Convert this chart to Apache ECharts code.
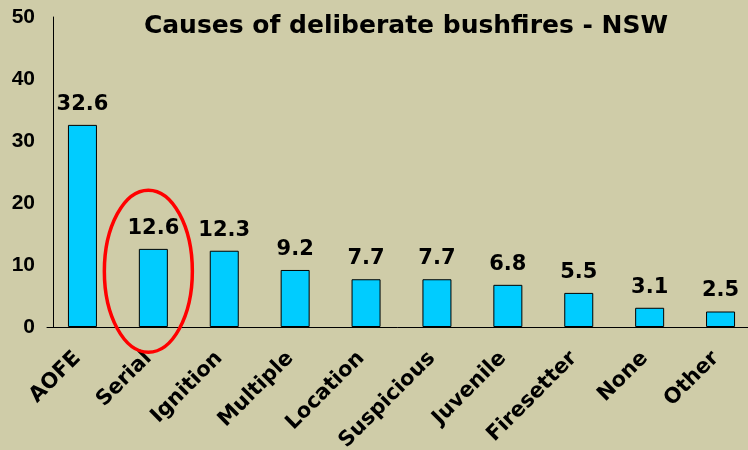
<!DOCTYPE html>
<html>
<head>
<meta charset="utf-8">
<script src="https://cdn.jsdelivr.net/npm/echarts@6/dist/echarts.min.js"></script>
<style>
    html, body { margin: 0; padding: 0; background: #cfcca8; }
    #char1 { width: 748px; height: 450px; }
</style>
</head>
<body>
<div id="char1"></div>
<script>
// data
var categories = ['AOFE', 'Serial', 'Ignition', 'Multiple', 'Location', 'Suspicious', 'Juvenile', 'Firesetter', 'None', 'Other'];
var values = [32.6, 12.6, 12.3, 9.2, 7.7, 7.7, 6.8, 5.5, 3.1, 2.5];
var yTicks = [0, 10, 20, 30, 40, 50];
var titleText = 'Causes of deliberate bushfires - NSW';
var circled = 'Serial';

var myChart = echarts.init(document.getElementById('char1'));

var option = {
    backgroundColor: '#cfcca8',
    animation: false,
    title: {
        text: titleText,
        left: 401,
        top: 9,
        textAlign: 'center',
        textStyle: {
            fontFamily: 'DejaVu Sans',
            fontWeight: 'bold',
            fontSize: 25,
            color: '#000'
        }
    },
    grid: {
        left: 47,
        width: 709,
        top: 17,
        bottom: 123,
        outerBoundsMode: 'none'
    },
    xAxis: {
        type: 'category',
        data: categories,
        axisLine: { lineStyle: { color: '#000', width: 1 } },
        axisTick: { show: false },
        axisLabel: {
            rotate: 45,
            interval: 0,
            margin: 23,
            padding: [0, 7, 0, 0],
            color: '#000',
            fontFamily: 'DejaVu Sans',
            fontWeight: 'bold',
            fontSize: 21
        }
    },
    yAxis: {
        type: 'value',
        min: yTicks[0],
        max: yTicks[yTicks.length - 1],
        interval: 10,
        offset: -6,
        splitLine: { show: false },
        axisTick: { show: false },
        axisLine: { show: true, lineStyle: { color: '#000', width: 1 } },
        axisLabel: {
            margin: 18,
            color: '#000',
            fontFamily: 'Liberation Sans',
            fontWeight: 'bold',
            fontSize: 21
        }
    },
    series: [{
        type: 'bar',
        data: values,
        barWidth: 29,
        itemStyle: {
            color: '#00ccff',
            borderColor: '#000',
            borderWidth: 1
        },
        label: {
            show: true,
            position: 'top',
            distance: 10,
            color: '#000',
            fontFamily: 'DejaVu Sans',
            fontWeight: 'bold',
            fontSize: 21
        }
    }]
};

myChart.setOption(option);

// red ellipse round the "Serial" bar
var p = myChart.convertToPixel({ seriesIndex: 0 }, [circled, 9]);
myChart.setOption({
    graphic: [{
        type: 'ellipse',
        shape: { cx: p[0] - 5, cy: p[1], rx: 44, ry: 81 },
        style: { fill: 'none', stroke: '#ff0000', lineWidth: 3.5 },
        z: 100
    }]
});
</script>
</body>
</html>
